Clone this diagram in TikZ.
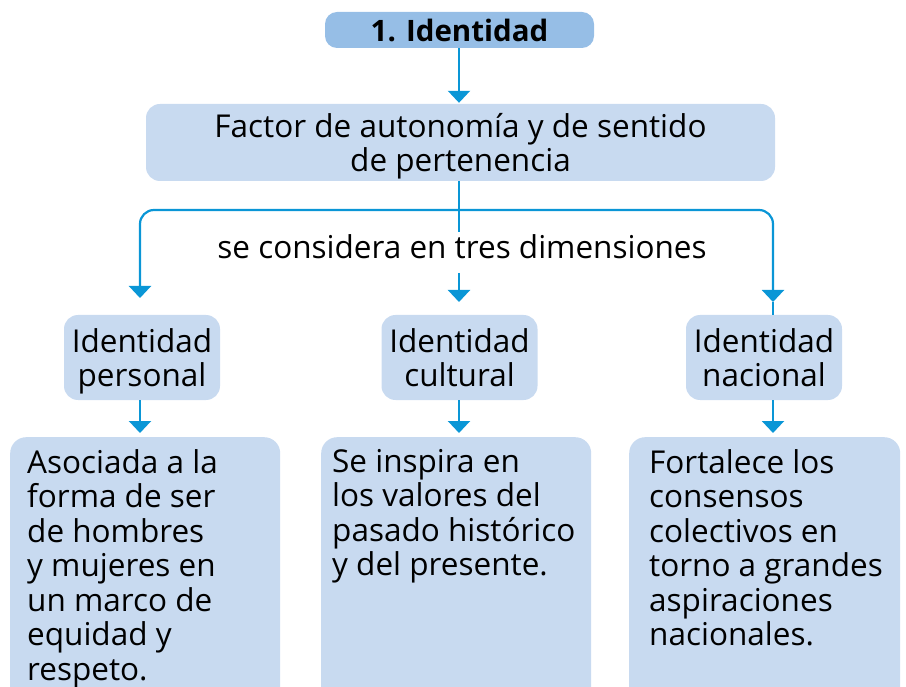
\documentclass[tikz,border=0pt]{standalone}
\usepackage{fontspec}
\setmainfont{Open Sans}
\usetikzlibrary{arrows.meta}

\definecolor{boxblue}{HTML}{C8DAF0}
\definecolor{titleblue}{HTML}{96BEE6}
\definecolor{arrowblue}{HTML}{0A96D6}

% two centred lines, set a little lower in their box
\newcommand{\boxlines}[1]{\raisebox{-5pt}[\height][\depth]{\begin{tabular}{@{}c@{}}#1\end{tabular}}}

\tikzset{
  titlebox/.style={fill=titleblue,rounded corners=12pt,minimum width=269pt,minimum height=36pt,inner sep=0pt,font=\fontsize{29.5}{32}\selectfont\bfseries},
  mainbox/.style={fill=boxblue,rounded corners=14pt,minimum width=629pt,minimum height=77pt,inner sep=0pt,font=\fontsize{31.5}{34.5}\selectfont},
  dimbox/.style={fill=boxblue,rounded corners=14pt,minimum width=156pt,minimum height=85pt,inner sep=0pt,font=\fontsize{31.5}{34.5}\selectfont},
  textbox/.style={fill=boxblue,rounded corners=16pt,anchor=north west,inner sep=0pt,font=\fontsize{31.5}{34.5}\selectfont},
  conn/.style={draw=arrowblue,line width=2.2pt,-{Triangle[width=22pt,length=12pt]}}
}

\begin{document}
\begin{tikzpicture}[x=1pt,y=-1pt]
  \useasboundingbox (0,0) rectangle (906,687);

  \node[titlebox] at (459.5,30) (title) {1. Identidad};
  \node[mainbox] at (460.5,142.5) (factor) {\boxlines{Factor de autonomía y de sentido\\de pertenencia}};
  \node at (462,247) (dims) {\fontsize{31.5}{34.5}\selectfont se considera en tres dimensiones};

  \node[dimbox] at (142,357.5) (personal) {\boxlines{Identidad\\personal}};
  \node[dimbox] at (459.5,357.5) (cultural) {\boxlines{Identidad\\cultural}};
  \node[dimbox] at (764,357.5) (nacional) {\boxlines{Identidad\\nacional}};

  \node[textbox] at (10,437) (asociada) {\parbox[t][270pt][t]{270pt}{\leftskip=17pt\relax
    \vspace*{12pt}Asociada a la\\forma de ser\\de hombres\\y mujeres en\\un marco de\\equidad y\\respeto.}};
  \node[textbox] at (321,437) (inspira) {\parbox[t][270pt][t]{270pt}{\leftskip=11pt\relax
    \vspace*{12pt}Se inspira en\\los valores del\\pasado histórico\\y del presente.}};
  \node[textbox] at (629,437) (fortalece) {\parbox[t][270pt][t]{271pt}{\leftskip=20pt\relax
    \vspace*{12pt}Fortalece los\\consensos\\colectivos en\\torno a grandes\\aspiraciones\\nacionales.}};

  \coordinate (split) at (459,210);
  \coordinate (leftend) at (140,298);
  \coordinate (rightend) at (773,302);
  \coordinate (midtop) at (459,273);
  \coordinate (midend) at (459,302);

  \draw[conn] (split |- title.south) -- ([yshift=1pt]split |- factor.north);
  \draw[draw=arrowblue,line width=2.2pt] (split |- factor.south) -- ([yshift=-22pt]split);
  \draw[conn,rounded corners=14pt] (split) -| (leftend);
  \draw[conn,rounded corners=14pt] (split) -| (rightend);
  \draw[draw=arrowblue,line width=2.2pt] (rightend) -- (rightend |- nacional.north);
  \draw[conn] (midtop) -- (midend);

  \draw[conn] (leftend |- personal.south) -- ([yshift=4pt]leftend |- asociada.north);
  \draw[conn] (split |- cultural.south) -- ([yshift=4pt]split |- inspira.north);
  \draw[conn] (rightend |- nacional.south) -- ([yshift=4pt]rightend |- fortalece.north);
\end{tikzpicture}
\end{document}
